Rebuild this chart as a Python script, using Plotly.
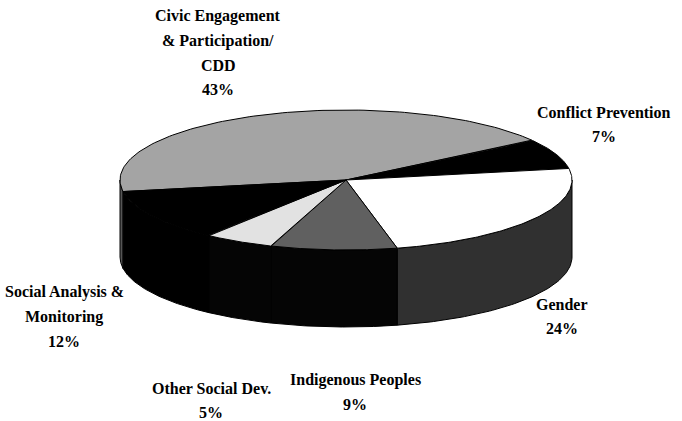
import numpy as np
import plotly.graph_objects as go

# ---- data ----
categories = ["Civic Engagement & Participation/ CDD", "Conflict Prevention", "Gender",
              "Indigenous Peoples", "Other Social Dev.", "Social Analysis & Monitoring"]
label_lines = [["Civic Engagement", "& Participation/", "CDD"],
               ["Conflict Prevention"],
               ["Gender"],
               ["Indigenous Peoples"],
               ["Other Social Dev."],
               ["Social Analysis &", "Monitoring"]]
values = [43, 7, 24, 9, 5, 12]

# ---- styles ----
top_colors = ["#a4a4a4", "#000000", "#ffffff", "#606060", "#e2e2e2", "#000000"]
side_colors = ["#555555", "#000000", "#303030", "#050505", "#050505", "#000000"]
label_anchor = [(218, 16), (604, 112), (562, 304), (355, 380), (211, 388), (64, 292)]
LINE_GAP = 24.5

W, H = 682, 421
CX, CY, RX, RY, DEPTH = 346, 180, 226, 70, 77
START = 189.5  # degrees, slices run clockwise

fig = go.Figure()

total = float(sum(values))
bounds = []
a = START
for v in values:
    b = a - v / total * 360.0
    bounds.append((a, b))
    a = b


def ex(t):
    return CX + RX * np.cos(np.radians(t))


def ey(t):
    return CY - RY * np.sin(np.radians(t))


# sides (front half only)
for i, (t0, t1) in enumerate(bounds):
    for s in (-360, 0, 360):
        lo = max(t1, -180 + s)
        hi = min(t0, 0 + s)
        if hi > lo:
            ts = np.linspace(hi, lo, 80)
            xs = list(ex(ts)) + list(ex(ts[::-1]))
            ys = list(ey(ts)) + list(ey(ts[::-1]) + DEPTH)
            fig.add_trace(go.Scatter(x=xs + [xs[0]], y=ys + [ys[0]], mode="lines",
                                     fill="toself", fillcolor=side_colors[i],
                                     line=dict(color="#000000", width=1),
                                     hoverinfo="skip", showlegend=False))

# top face slices
for i, (t0, t1) in enumerate(bounds):
    ts = np.linspace(t0, t1, 120)
    xs = [CX] + list(ex(ts)) + [CX]
    ys = [CY] + list(ey(ts)) + [CY]
    fig.add_trace(go.Scatter(x=xs, y=ys, mode="lines", fill="toself",
                             fillcolor=top_colors[i],
                             line=dict(color="#000000", width=1),
                             name=categories[i], text=f"{values[i]}%",
                             hoverinfo="name+text", showlegend=False))

# labels
annotations = []
for i, lines in enumerate(label_lines):
    x0, y0 = label_anchor[i]
    for j, ln in enumerate(lines + [f"{values[i]}%"]):
        annotations.append(dict(x=x0, y=y0 + j * LINE_GAP, xref="x", yref="y",
                                text=ln, showarrow=False, xanchor="center",
                                yanchor="middle",
                                font=dict(family="Liberation Serif", size=16,
                                          weight="bold", color="#000000")))

fig.update_layout(
    width=W, height=H, margin=dict(l=0, r=0, t=0, b=0),
    paper_bgcolor="#ffffff", plot_bgcolor="#ffffff",
    xaxis=dict(range=[0, W], visible=False, fixedrange=True),
    yaxis=dict(range=[H, 0], visible=False, fixedrange=True),
    annotations=annotations, showlegend=False,
)

fig.write_html("out.html", config={"displayModeBar": False},
               post_script="document.body.style.margin='0';document.body.style.overflow='hidden';")
